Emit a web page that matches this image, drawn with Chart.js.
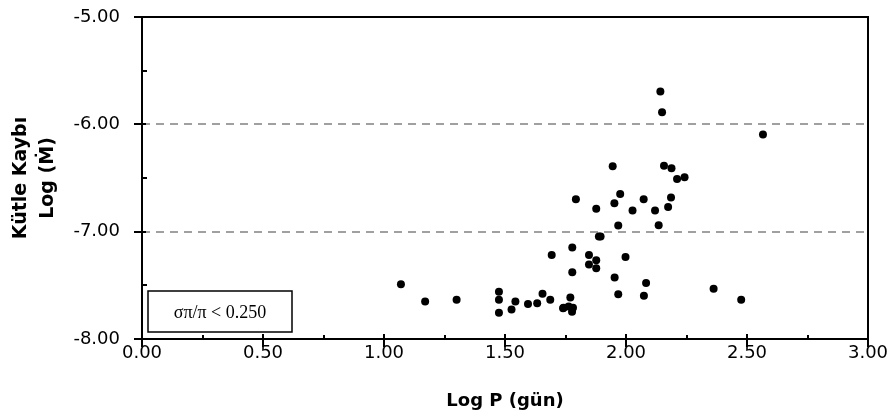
<!DOCTYPE html>
<html>
<head>
<meta charset="utf-8">
<script src="https://cdn.jsdelivr.net/npm/chart.js@4.4.1/dist/chart.umd.min.js"></script>
<style>
    html, body { margin: 0; padding: 0; background: #ffffff; }
    #wrap { width: 892px; height: 420px; }
</style>
</head>
<body>
<div id="wrap"><canvas id="chart_canvas"></canvas></div>
<script>
    // Log P (gün)
    var log_period = [
        1.07, 1.17, 1.30, 1.475, 1.475, 1.475, 1.527, 1.543, 1.595, 1.633,
        1.655, 1.687, 1.693, 1.778, 1.778, 1.770, 1.740, 1.763, 1.781, 1.777,
        1.793, 1.877, 1.888, 1.895, 1.847, 1.877, 1.847, 1.877, 1.998, 1.953,
        2.083, 1.968, 2.074, 2.362, 2.476, 1.742, 2.142, 2.149, 2.566, 1.945,
        2.157, 2.188, 2.211, 2.242, 1.976, 1.952, 2.073, 2.027, 2.120, 2.186,
        2.174, 1.968, 2.135
    ];
    // Log (M dot)
    var log_mass_loss = [
        -7.49, -7.65, -7.635, -7.56, -7.635, -7.755, -7.724, -7.651, -7.673, -7.667,
        -7.578, -7.635, -7.217, -7.148, -7.377, -7.613, -7.714, -7.698, -7.708, -7.745,
        -6.698, -6.786, -7.045, -7.045, -7.217, -7.267, -7.305, -7.342, -7.236, -7.427,
        -7.478, -7.582, -7.597, -7.531, -7.635, -7.708, -5.695, -5.887, -6.094, -6.39,
        -6.387, -6.408, -6.509, -6.493, -6.648, -6.736, -6.698, -6.802, -6.802, -6.682,
        -6.771, -6.943, -6.941
    ];
    var x_ticks = [0, 0.5, 1, 1.5, 2, 2.5, 3];
    var x_minor_ticks = [0.25, 0.75, 1.25, 1.75, 2.25, 2.75];
    var y_ticks = [-8, -7, -6, -5];
    var y_minor_ticks = [-7.5, -6.5, -5.5];
    var note_text = "\u03c3\u03c0/\u03c0 < 0.250";

    var points = [];
    for (var i = 0; i < log_period.length; i++) {
        points.push({ x: log_period[i], y: log_mass_loss[i] });
    }

    var frame_plugin = {
        id: 'frame_plugin',
        afterDraw: function (chart) {
            var ctx = chart.ctx;
            var area = chart.chartArea;
            var xs = chart.scales.x;
            var ys = chart.scales.y;
            ctx.save();
            ctx.strokeStyle = '#000000';
            ctx.lineWidth = 2;
            ctx.strokeRect(area.left, area.top, area.right - area.left, area.bottom - area.top);

            ctx.beginPath();
            x_ticks.forEach(function (v) {
                var px = Math.round(xs.getPixelForValue(v));
                ctx.moveTo(px, area.bottom - 5);
                ctx.lineTo(px, area.bottom + 8);
            });
            x_minor_ticks.forEach(function (v) {
                var px = Math.round(xs.getPixelForValue(v));
                ctx.moveTo(px, area.bottom - 4);
                ctx.lineTo(px, area.bottom);
            });
            y_ticks.forEach(function (v) {
                var py = Math.round(ys.getPixelForValue(v));
                ctx.moveTo(area.left - 8, py);
                ctx.lineTo(area.left + 4, py);
            });
            y_minor_ticks.forEach(function (v) {
                var py = Math.round(ys.getPixelForValue(v));
                ctx.moveTo(area.left, py);
                ctx.lineTo(area.left + 5, py);
            });
            ctx.stroke();

            // note box, bottom left of plot
            var bx = area.left + 6;
            var by = area.bottom - 48;
            ctx.fillStyle = '#ffffff';
            ctx.fillRect(bx, by, 144, 41);
            ctx.lineWidth = 1.5;
            ctx.strokeRect(bx, by, 144, 41);
            ctx.fillStyle = '#000000';
            ctx.font = '18px "Liberation Serif"';
            ctx.textAlign = 'center';
            ctx.textBaseline = 'middle';
            ctx.fillText(note_text, bx + 72, by + 22);
            ctx.restore();
        }
    };

    var cxt = document.getElementById('chart_canvas').getContext('2d');
    var chart = new Chart(cxt, {
        type: 'scatter',
        data: {
            datasets: [{
                label: 'Kütle Kaybı',
                data: points,
                backgroundColor: '#000000',
                borderWidth: 0,
                pointRadius: 4,
                pointHoverRadius: 4
            }]
        },
        options: {
            responsive: true,
            maintainAspectRatio: false,
            animation: false,
            devicePixelRatio: 1,
            layout: { padding: { top: 17, right: 24, left: 0, bottom: 0 } },
            plugins: {
                legend: { display: false },
                tooltip: { enabled: false }
            },
            scales: {
                x: {
                    type: 'linear',
                    min: 0,
                    max: 3,
                    afterBuildTicks: function (scale) {
                        scale.ticks = x_ticks.map(function (v) { return { value: v }; });
                    },
                    afterFit: function (scale) {
                        scale.height = 81;
                        scale.paddingLeft = 0;
                        scale.paddingRight = 0;
                    },
                    grid: { display: false, drawTicks: false },
                    border: { display: false },
                    ticks: {
                        color: '#000000',
                        padding: 4,
                        font: { family: 'DejaVu Sans', size: 18 },
                        callback: function (v) { return Number(v).toFixed(2); }
                    },
                    title: {
                        display: true,
                        text: 'Log P (gün)',
                        color: '#000000',
                        padding: { top: 0, bottom: 8 },
                        font: { family: 'DejaVu Sans', size: 18, weight: 'bold' }
                    }
                },
                y: {
                    type: 'linear',
                    min: -8,
                    max: -5,
                    afterBuildTicks: function (scale) {
                        scale.ticks = y_ticks.map(function (v) { return { value: v }; });
                    },
                    afterFit: function (scale) {
                        scale.width = 142;
                        scale.paddingTop = 0;
                        scale.paddingBottom = 0;
                    },
                    grid: {
                        drawTicks: false,
                        lineWidth: 2,
                        color: function (c) {
                            var v = c.tick ? c.tick.value : null;
                            return (v === -6 || v === -7) ? '#a0a0a0' : 'rgba(0,0,0,0)';
                        }
                    },
                    border: { display: false, dash: [8, 6] },
                    ticks: {
                        color: '#000000',
                        padding: 22,
                        font: { family: 'DejaVu Sans', size: 18 },
                        callback: function (v) { return Number(v).toFixed(2); }
                    },
                    title: {
                        display: true,
                        text: ['Kütle Kaybı', 'Log (\u1e40)'],
                        color: '#000000',
                        padding: { top: 7, bottom: 0 },
                        font: { family: 'DejaVu Sans', size: 19, weight: 'bold', lineHeight: 1.45 }
                    }
                }
            }
        },
        plugins: [frame_plugin]
    });
</script>
</body>
</html>
